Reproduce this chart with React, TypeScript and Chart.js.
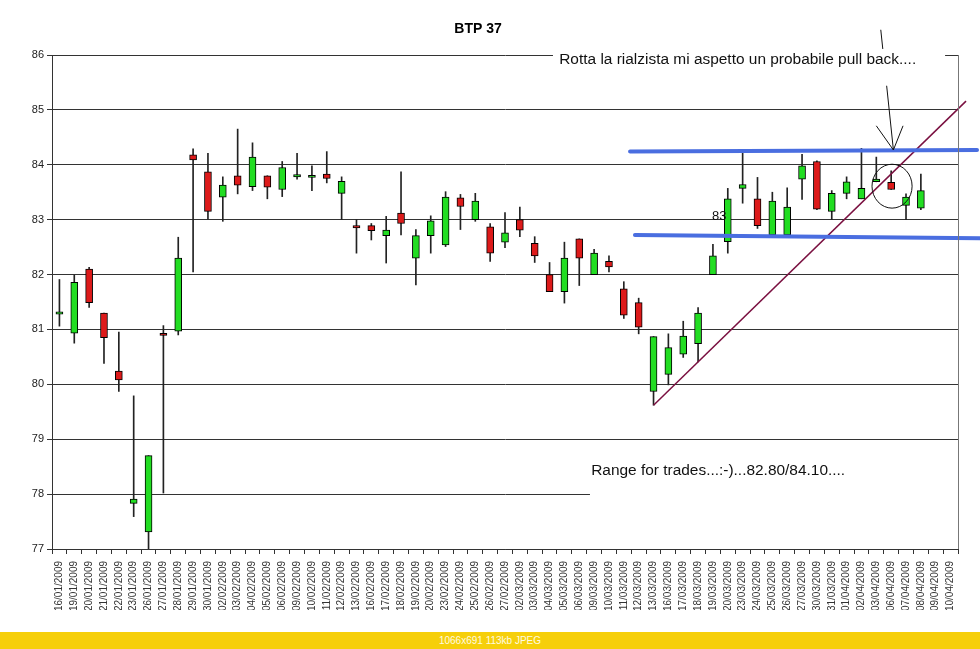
import React, { useEffect, useRef } from "react";
import { Chart, registerables } from "chart.js";

Chart.register(...registerables);

const dates = [
  "16/01/2009", "19/01/2009", "20/01/2009", "21/01/2009", "22/01/2009", "23/01/2009", "26/01/2009", "27/01/2009", "28/01/2009", "29/01/2009", "30/01/2009",
  "02/02/2009", "03/02/2009", "04/02/2009", "05/02/2009", "06/02/2009", "09/02/2009", "10/02/2009", "11/02/2009", "12/02/2009", "13/02/2009",
  "16/02/2009", "17/02/2009", "18/02/2009", "19/02/2009", "20/02/2009", "23/02/2009", "24/02/2009", "25/02/2009", "26/02/2009", "27/02/2009",
  "02/03/2009", "03/03/2009", "04/03/2009", "05/03/2009", "06/03/2009", "09/03/2009", "10/03/2009", "11/03/2009", "12/03/2009", "13/03/2009",
  "16/03/2009", "17/03/2009", "18/03/2009", "19/03/2009", "20/03/2009", "23/03/2009", "24/03/2009", "25/03/2009", "26/03/2009", "27/03/2009",
  "30/03/2009", "31/03/2009", "01/04/2009", "02/04/2009", "03/04/2009", "06/04/2009", "07/04/2009", "08/04/2009", "09/04/2009", "10/04/2009",
];

const opens = [
  81.28, 80.93, 82.10, 81.30, 80.24, 77.83, 77.31, 80.93, 80.97, 84.18, 83.87,
  83.41, 83.80, 83.60, 83.80, 83.55, 83.78, 83.77, 83.83, 83.48, 82.89,
  82.89, 82.71, 83.12, 82.30, 82.71, 82.54, 83.40, 83.00, 82.87, 82.59,
  83.00, 82.57, 82.00, 81.69, 82.65, 82.00, 82.24, 81.74, 81.49, 79.87,
  80.18, 80.55, 80.74, 82.00, 82.60, 83.57, 83.38, 82.72, 82.72, 83.74,
  84.06, 83.15, 83.48, 83.38, 83.69, 83.68, 83.26, 83.21, null, null,
];
const highs = [
  81.91, 81.99, 82.13, 81.30, 80.95, 79.79, 78.70, 81.07, 82.68, 84.29, 84.21,
  83.78, 84.65, 84.40, 83.80, 84.06, 84.21, 83.98, 84.24, 83.78, 83.00,
  82.93, 83.06, 83.87, 82.82, 83.07, 83.51, 83.46, 83.48, 82.93, 83.13,
  83.23, 82.69, 82.22, 82.59, 82.65, 82.46, 82.34, 81.87, 81.57, 80.87,
  80.92, 81.15, 81.40, 82.55, 83.57, 84.21, 83.77, 83.50, 83.58, 84.19,
  84.07, 83.53, 83.78, 84.30, 84.14, 83.89, 83.47, 83.83, null, null,
];
const lows = [
  81.06, 80.75, 81.40, 80.38, 79.87, 77.59, 77.00, 78.02, 80.90, 82.05, 83.01,
  82.97, 83.47, 83.53, 83.38, 83.42, 83.74, 83.53, 83.67, 83.00, 82.39,
  82.63, 82.21, 82.72, 81.81, 82.39, 82.51, 82.82, 82.97, 82.24, 82.49,
  82.69, 82.22, 81.69, 81.48, 81.80, 82.00, 82.05, 81.20, 80.92, 79.62,
  79.99, 80.49, 80.41, 82.00, 82.39, 83.30, 82.84, 82.69, 82.69, 83.37,
  83.18, 83.00, 83.38, 83.38, 83.69, 83.55, 83.00, 83.18, null, null,
];
const closes = [
  81.32, 81.86, 81.49, 80.85, 80.08, 77.91, 78.70, 80.89, 82.30, 84.09, 83.15,
  83.63, 83.63, 84.14, 83.59, 83.95, 83.82, 83.81, 83.75, 83.70, 82.85,
  82.80, 82.81, 82.93, 82.71, 82.98, 83.41, 83.24, 83.34, 82.39, 82.76,
  82.81, 82.34, 81.69, 82.30, 82.30, 82.39, 82.14, 81.26, 81.04, 80.87,
  80.67, 80.88, 81.30, 82.34, 83.38, 83.64, 82.89, 83.34, 83.23, 83.98,
  83.19, 83.48, 83.69, 83.57, 83.74, 83.55, 83.41, 83.53, null, null,
];

const yMin = 77;
const yMax = 86;
const yStep = 1;

// annotation geometry in data units (category index, price)
const trendLineX = [40, 61.04];
const trendLineY = [79.62, 85.16];
const resistanceX = [38.42, 61.78];
const resistanceY = [84.24, 84.27];
const supportX = [38.75, 62.0];
const supportY = [82.72, 82.66];
const arrowX = [55.3, 56.15];
const arrowY = [86.46, 84.27];
const arrowHeadX = [55.0, 56.8];
const arrowHeadY = [84.71, 84.71];
const circleCenter = [56.06, 83.61];
const circleRadius = [1.35, 0.4];

const noteTexts = [
  "Rotta la rialzista mi aspetto un probabile pull back....",
  "Range for trades...:-)...82.80/84.10....",
  "83",
];
const noteX = [33.65, 35.8, 43.94];
const noteY = [85.84, 78.35, 83.0];
const noteBoxX = [[33.23, 59.63], [35.72, 60.6]];
const noteBoxY = [[86.11, 85.44], [78.7, 77.89]];

const chartTitle = "BTP 37";

const GREEN = "#22dd22";
const RED = "#dd1a1a";
const FONT = '"Liberation Sans", Arial, Helvetica, sans-serif';

const annotationPlugin = {
  id: "btpAnnotations",
  afterDraw(chart: any) {
    const { ctx, chartArea } = chart;
    const xs = chart.scales.x;
    const ys = chart.scales.y;
    const px = (v: number) => xs.getPixelForValue(v);
    const py = (v: number) => ys.getPixelForValue(v);
    ctx.save();

    // trend line
    ctx.strokeStyle = "#7a1040";
    ctx.lineWidth = 1.5;
    ctx.beginPath();
    ctx.moveTo(px(trendLineX[0]), py(trendLineY[0]));
    ctx.lineTo(px(trendLineX[1]), py(trendLineY[1]));
    ctx.stroke();

    // blue lines
    ctx.strokeStyle = "#4a6ee0";
    ctx.lineWidth = 4;
    ctx.lineCap = "round";
    ctx.beginPath();
    ctx.moveTo(px(resistanceX[0]), py(resistanceY[0]));
    ctx.lineTo(px(resistanceX[1]), py(resistanceY[1]));
    ctx.stroke();
    ctx.beginPath();
    ctx.moveTo(px(supportX[0]), py(supportY[0]));
    ctx.lineTo(px(supportX[1]), py(supportY[1]));
    ctx.stroke();
    ctx.lineCap = "butt";

    // circle
    ctx.strokeStyle = "#111";
    ctx.lineWidth = 1;
    const cx = px(circleCenter[0]);
    const cy = py(circleCenter[1]);
    const rX = Math.abs(px(circleCenter[0] + circleRadius[0]) - cx);
    const rY = Math.abs(py(circleCenter[1] + circleRadius[1]) - cy);
    ctx.beginPath();
    ctx.ellipse(cx, cy, rX, rY, 0, 0, Math.PI * 2);
    ctx.stroke();

    // arrow
    ctx.beginPath();
    ctx.moveTo(px(arrowX[0]), py(arrowY[0]));
    ctx.lineTo(px(arrowX[1]), py(arrowY[1]));
    ctx.moveTo(px(arrowHeadX[0]), py(arrowHeadY[0]));
    ctx.lineTo(px(arrowX[1]), py(arrowY[1]));
    ctx.lineTo(px(arrowHeadX[1]), py(arrowHeadY[1]));
    ctx.stroke();

    // text boxes (white fill) and notes
    ctx.fillStyle = "#ffffff";
    noteBoxX.forEach((bx, k) => {
      const x0 = px(bx[0]);
      const x1 = px(bx[1]);
      const y0 = py(noteBoxY[k][0]);
      const y1 = py(noteBoxY[k][1]);
      ctx.fillRect(x0, y0, x1 - x0, y1 - y0);
    });

    // right border of plot area
    ctx.strokeStyle = "#777";
    ctx.lineWidth = 1;
    ctx.beginPath();
    const rx = Math.round(chartArea.right) + 0.5;
    ctx.moveTo(rx, chartArea.top);
    ctx.lineTo(rx, chartArea.bottom);
    ctx.stroke();

    ctx.fillStyle = "#111";
    ctx.textAlign = "left";
    ctx.textBaseline = "alphabetic";
    noteTexts.forEach((t, k) => {
      ctx.font = (k === 2 ? "13px " : "15.45px ") + FONT;
      ctx.fillText(t, px(noteX[k]), py(noteY[k]));
    });

    // title
    ctx.font = "bold 14px " + FONT;
    ctx.textAlign = "center";
    ctx.fillStyle = "#000";
    ctx.fillText(chartTitle, 478, 33);

    ctx.restore();
  },
};

export default function App() {
  const ref = useRef<HTMLCanvasElement | null>(null);

  useEffect(() => {
    if (!ref.current) return;
    const bodies = dates.map((_, i) => (opens[i] == null ? null : [opens[i], closes[i]]));
    const wicks = dates.map((_, i) => (lows[i] == null ? null : [lows[i], highs[i]]));
    const colors = dates.map((_, i) =>
      opens[i] != null && (closes[i] as number) >= (opens[i] as number) ? GREEN : RED
    );

    const chart = new Chart(ref.current, {
      type: "bar",
      data: {
        labels: dates,
        datasets: [
          {
            label: "body",
            data: bodies as any,
            backgroundColor: colors,
            borderColor: "#000",
            borderWidth: 1,
            borderSkipped: false,
            barThickness: 7,
            grouped: false,
            order: 0,
          } as any,
          {
            label: "wick",
            data: wicks as any,
            backgroundColor: "#222",
            borderWidth: 0,
            barThickness: 1,
            grouped: false,
            order: 1,
          } as any,
        ],
      },
      options: {
        animation: false,
        responsive: false,
        devicePixelRatio: 1,
        layout: { padding: { left: 8, right: 22, top: 55, bottom: 22 } },
        plugins: {
          legend: { display: false },
          tooltip: { enabled: false },
          title: { display: false },
        },
        scales: {
          x: {
            type: "category",
            offset: true,
            grid: {
              offset: true,
              drawOnChartArea: false,
              drawTicks: true,
              tickLength: 5,
              color: "#333",
            },
            border: { color: "#333", width: 1 },
            ticks: {
              autoSkip: false,
              minRotation: 90,
              maxRotation: 90,
              padding: 7,
              color: "#333",
              font: { family: FONT, size: 10 },
            },
            afterFit: (s: any) => {
              s.height = 61;
            },
          },
          y: {
            type: "linear",
            min: yMin,
            max: yMax,
            ticks: {
              stepSize: yStep,
              padding: 3,
              color: "#222",
              font: { family: FONT, size: 11 },
            },
            grid: { color: "#333", tickLength: 5, drawTicks: true },
            border: { color: "#333", width: 1 },
            afterFit: (s: any) => {
              s.width = 44;
            },
          },
        },
      } as any,
      plugins: [annotationPlugin],
    });
    return () => chart.destroy();
  }, []);

  return (
    <div
      style={{
        position: "fixed",
        left: 0,
        top: 0,
        width: 980,
        height: 649,
        background: "#fff",
        overflow: "hidden",
      }}
    >
      <canvas ref={ref} width={980} height={632} style={{ display: "block", width: 980, height: 632 }} />
      <div
        style={{
          height: 17,
          background: "#f6cf0a",
          color: "#fffbe0",
          fontFamily: FONT,
          fontSize: 10,
          lineHeight: "17px",
          textAlign: "center",
        }}
      >
        1066x691 113kb JPEG
      </div>
    </div>
  );
}
